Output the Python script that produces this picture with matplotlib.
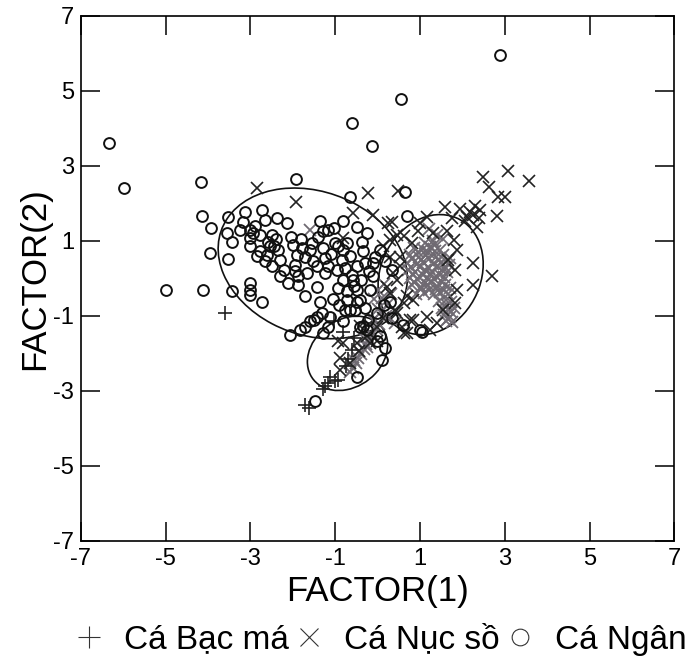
import matplotlib
matplotlib.use("Agg")
import matplotlib.pyplot as plt
from matplotlib.patches import Ellipse
from matplotlib.lines import Line2D

plt.rcParams['font.family'] = ['Liberation Sans', 'DejaVu Sans']
plt.rcParams['axes.unicode_minus'] = False

# Ca Ngan (circles)
ngan_x = [-6.33, -5.98, -4.99, -4.16, -4.15, -3.93, -3.95, -4.13, -3.43, 2.89, 0.55, -0.60, -0.13,
          -1.92, -0.65, 0.65, 0.69,
          -3.52, -3.56, -3.44, -3.52, -3.13, -3.17, -3.01, -3.01, -3.01, -2.73, -2.66, -2.77, -2.77,
          -2.58, -2.50, -2.38, -2.14, -2.34, -2.30, -2.50, -2.66, -2.30, -2.11, -3.01, -3.01, -3.01,
          -2.73, -1.99, -1.91, -1.79, -1.71, -1.60, -1.52, -1.87, -1.87, -1.67, -1.44, -1.71, -1.36,
          -1.16, -1.04, -1.28, -1.44, -1.24, -1.24, -1.16, -0.81, -0.93, -0.81, -0.73, -0.85, -0.49,
          -0.38, -0.34, -0.30, -0.49, -0.77, -0.97, -0.81, -0.57, -0.93, -0.73, -0.49, -0.73, -0.49,
          -0.65, -0.53, -0.30, -0.18, -0.10, -0.06, -0.26, 0.06, 0.17, 0.33, 0.29, -0.02, -0.22,
          -0.42, -0.81, -1.16, -1.44, -1.60, -1.71, -1.83, -2.07, -1.28,
          -2.62, -2.45, -2.20, -1.95, -1.55, -1.30, -1.10, -0.60, -0.40, -0.90, -1.05, -3.25, -2.90,
          -1.36, -1.12, -1.32, -1.51, -0.77, -0.42, -0.34, -0.26, 0.06, 0.17, 0.10, -0.02, -0.49,
          -1.48, 1.00, 1.04, 0.60, 0.35, 0.15, -0.10,
          -2.95, -2.85, -2.40, -2.05, -1.80, -1.40, -1.00, -0.65, -0.20, -0.55, -1.95, -2.55]
ngan_y = [3.61, 2.42, -0.31, 2.57, 1.67, 1.35, 0.68, -0.31, -0.33, 5.95, 4.78, 4.15, 3.53,
          2.64, 2.18, 2.30, 1.67,
          1.65, 1.20, 0.96, 0.51, 1.78, 1.51, 1.29, 1.07, 0.85, 1.83, 1.56, 1.16, 0.72,
          0.98, 1.16, 1.60, 1.47, 0.76, 0.49, 0.32, 0.45, 0.05, -0.13, -0.13, -0.31, -0.44,
          -0.62, 0.89, 0.63, 0.80, 0.58, 0.76, 0.45, 0.05, -0.17, 0.14, -0.22, -0.46, 1.52,
          1.29, 1.34, 1.25, 0.32, 0.54, 0.14, 0.32, 1.52, 0.85, 0.76, 0.94, 0.49, 1.38,
          0.98, 0.72, 0.40, 0.32, 0.27, 0.23, -0.04, -0.04, -0.26, -0.35, -0.31, -0.57, -0.62,
          -0.84, -0.84, -0.80, -0.31, 0.05, 0.58, 1.20, 0.76, 0.45, 0.23, -0.62, -0.93, -1.11,
          -1.29, -1.15, -1.29, -1.02, -1.15, -1.29, -1.37, -1.51, -1.46,
          0.62, 0.85, 0.22, 0.35, 0.95, 0.80, 0.65, 0.10, -0.05, -0.70, -0.55, 1.30, 1.40,
          -0.62, -1.02, -0.93, -1.11, -0.84, -0.57, -1.28, -1.37, -1.55, -1.86, -2.17, -1.68, -2.62,
          -3.28, -1.37, -1.42, -1.25, -1.05, -0.70, 0.40,
          1.22, 0.60, 1.05, 1.10, 1.05, 1.10, 0.95, 0.60, 0.20, -0.20, 0.20, 0.85]

# Ca Nuc so (crosses)
nuc_x = [-2.85, -1.92, -0.22, 0.47, -0.57, -0.10, 0.25, -0.81, 0.45, 0.13, 0.29, 0.53, 0.45, 0.21,
         0.69, 0.41, 0.13, -0.02, 0.57, 0.61, -0.26, -0.81, -0.49,
         3.08, 3.56, 2.49, 2.63, 2.83, 3.01, 2.81, 2.42, 2.26, 2.10, 2.34, 1.59, 1.75, 1.16, 1.00,
         1.31, 1.63, 1.79, 1.87, 1.67, 1.83, 2.26, 2.69, 2.26, 1.87, 1.83, 1.55, 1.16, 0.69, 1.24,
         0.33, 0.61, 0.29, 0.53, 0.37, 0.29, 0.61, 0.84, -0.02, 1.39, 2.30,
         -0.93, -0.89, -0.89, -0.65, -0.45, -0.18, -0.42, 0.76, 0.45, 0.84,
         2.18, 2.05, 1.95, 2.40, 0.95, 0.80]
nuc_y = [2.41, 2.05, 2.27, 2.32, 1.74, 1.69, 1.47, 1.07, 1.16, 0.85, 0.58, 0.32, -0.04, -0.22,
         -0.48, -0.84, -1.06, -1.29, -1.29, -1.46, -1.55, -1.73, -1.73,
         2.86, 2.61, 2.71, 2.45, 2.18, 2.17, 1.67, 1.83, 1.69, 1.65, 1.38, 1.90, 1.60, 1.65, 1.47,
         1.20, 1.25, 1.03, 0.76, 0.49, 0.23, 0.40, 0.05, -0.17, -0.31, -0.66, -0.84, -1.02, -1.46, -1.37,
         1.51, 1.12, 1.03, 0.58, 0.14, -0.40, -0.66, -1.11, -1.68, -1.20, 1.92,
         -1.68, -2.13, -2.44, -2.26, -1.95, -1.73, -1.28, -1.11, -0.93, -0.57,
         1.78, 1.52, 1.85, 1.60, 1.25, 0.95]

# dense part of Ca Nuc so, drawn grey as in the scan
nuc_dense_x = [0.85, 1.07, 1.24, 1.46, 0.76, 0.97, 1.13, 1.37, 1.54, 1.71, 0.70, 0.92, 1.08, 1.31,
               1.49, 1.68, 0.72, 0.88, 1.12, 1.29, 1.52, 1.64, 0.77, 0.94, 1.16, 1.33, 1.56,
               0.81, 1.02, 1.19, 1.41, 1.58, 0.91, 1.09, 1.32, 1.48, 1.66, 1.44, 1.61, 1.74,
               1.52, 1.66, 1.79, 1.56, 1.71, 1.62, 1.76, 1.21, 1.39, 1.55, 1.30,
               0.02, 0.11, 0.24, 0.01, 0.19, 0.41, -0.08, 0.16,
               0.15, 0.04, -0.05, -0.14, -0.21, -0.28, -0.33, -0.39, -0.46, -0.52, -0.58, -0.66,
               -0.19, -0.31, -1.59,
               0.96, 1.18, 1.36, 0.81, 1.02, 1.22, 1.44, 1.61, 0.79, 1.01, 1.21, 1.41, 1.59,
               0.83, 1.06, 1.26, 1.46, 0.86, 1.11, 1.27, 1.52, 1.02, 1.21, 1.38, 1.57, 1.70,
               1.64, 1.72, 1.67, 0.31, 0.09, -0.11, -0.26, -0.43, -0.55, 1.12, 1.34]
nuc_dense_y = [0.81, 0.78, 0.83, 0.76, 0.62, 0.58, 0.63, 0.57, 0.61, 0.55, 0.41, 0.38, 0.43, 0.37,
               0.42, 0.36, 0.21, 0.18, 0.23, 0.17, 0.22, 0.16, 0.02, -0.03, 0.01, -0.02, 0.03,
               -0.18, -0.22, -0.17, -0.21, -0.19, -0.41, -0.38, -0.42, -0.37, -0.43, -0.61, -0.58, -0.62,
               -0.79, -0.82, -0.78, -0.98, -1.02, -1.14, -1.17, 1.31, 1.16, 1.05, 1.00,
               -0.31, -0.52, -0.69, -0.82, -1.01, -1.19, -0.55, -0.14,
               -1.05, -1.21, -1.34, -1.49, -1.62, -1.75, -1.88, -2.01, -2.12, -2.25, -2.38, -2.50,
               -1.45, -1.60, 1.29,
               0.71, 0.69, 0.72, 0.51, 0.49, 0.52, 0.48, 0.47, 0.29, 0.31, 0.28, 0.32, 0.30,
               0.11, 0.09, 0.12, 0.08, -0.09, -0.12, -0.08, -0.10, -0.29, -0.31, -0.28, -0.30, -0.27,
               -0.70, -0.90, -1.08, -0.42, -0.91, -1.10, -1.82, -1.95, -2.18, 0.93, 0.88]

# Ca Bac ma (plus)
bac_x = [-3.60, -1.04, -0.81, -1.12, -1.16, -1.24, -1.01, -0.93, -1.71, -1.62, -0.60, -0.70,
         -0.75, -0.55, -0.30, -1.30]
bac_y = [-0.93, -1.15, -1.42, -2.62, -2.80, -2.88, -2.75, -2.71, -3.37, -3.45, -1.90, -2.15,
         -2.35, -1.60, -1.20, -2.95]

# confidence ellipses: centre x, centre y, width, height, angle
ell_cx = [-1.53, 1.25, -0.71]
ell_cy = [0.40, 0.10, -2.00]
ell_w = [4.69, 3.27, 2.15]
ell_h = [3.75, 2.39, 1.70]
ell_ang = [-30.8, 72.8, 50.7]

ticks = [-7, -5, -3, -1, 1, 3, 5, 7]

fig = plt.figure(figsize=(6.85, 6.62), dpi=100)
ax = fig.add_axes([0.118, 0.183, 0.8666, 0.793])

ax.plot(nuc_dense_x, nuc_dense_y, linestyle='none', marker='x', markersize=9,
        markeredgewidth=1.3, color='#6f6a72')
ax.plot(nuc_x, nuc_y, linestyle='none', marker='x', markersize=9,
        markeredgewidth=1.2, color='#222222')
ax.plot(bac_x, bac_y, linestyle='none', marker='+', markersize=9.5,
        markeredgewidth=1.2, color='#222222')
ax.plot(ngan_x, ngan_y, linestyle='none', marker='o', markersize=7.8,
        markeredgewidth=1.4, markerfacecolor='none', color='#111111')

for i in range(3):
    ax.add_patch(Ellipse((ell_cx[i], ell_cy[i]), ell_w[i], ell_h[i], angle=ell_ang[i],
                         fill=False, edgecolor='#111111', linewidth=1.2))

ax.set_xlim(-7, 7)
ax.set_ylim(-7, 7)
ax.set_xticks(ticks)
ax.set_yticks(ticks)
ax.tick_params(direction='in', length=13.5, width=1.1, top=True, right=True,
               labelsize=17, pad=5)
for s in ax.spines.values():
    s.set_linewidth(1.2)

ax.set_xlabel('FACTOR(1)', fontsize=25, labelpad=4)
ax.set_ylabel('FACTOR(2)', fontsize=25, labelpad=1)

handles = [Line2D([], [], linestyle='none', marker='+', markersize=16, markeredgewidth=0.8, color='#333333'),
           Line2D([], [], linestyle='none', marker='x', markersize=13, markeredgewidth=0.8, color='#333333'),
           Line2D([], [], linestyle='none', marker='o', markersize=12, markeredgewidth=0.8,
                  markerfacecolor='none', color='#333333')]
fig.legend(handles, ['Cá Bạc má', 'Cá Nục sồ', 'Cá Ngân'], ncol=3, frameon=False,
           loc='center left', bbox_to_anchor=(0.089, 0.033), fontsize=24,
           handlelength=0.9, handletextpad=0.6, columnspacing=0.15, borderaxespad=0)

fig.savefig('out.png', dpi=100)
